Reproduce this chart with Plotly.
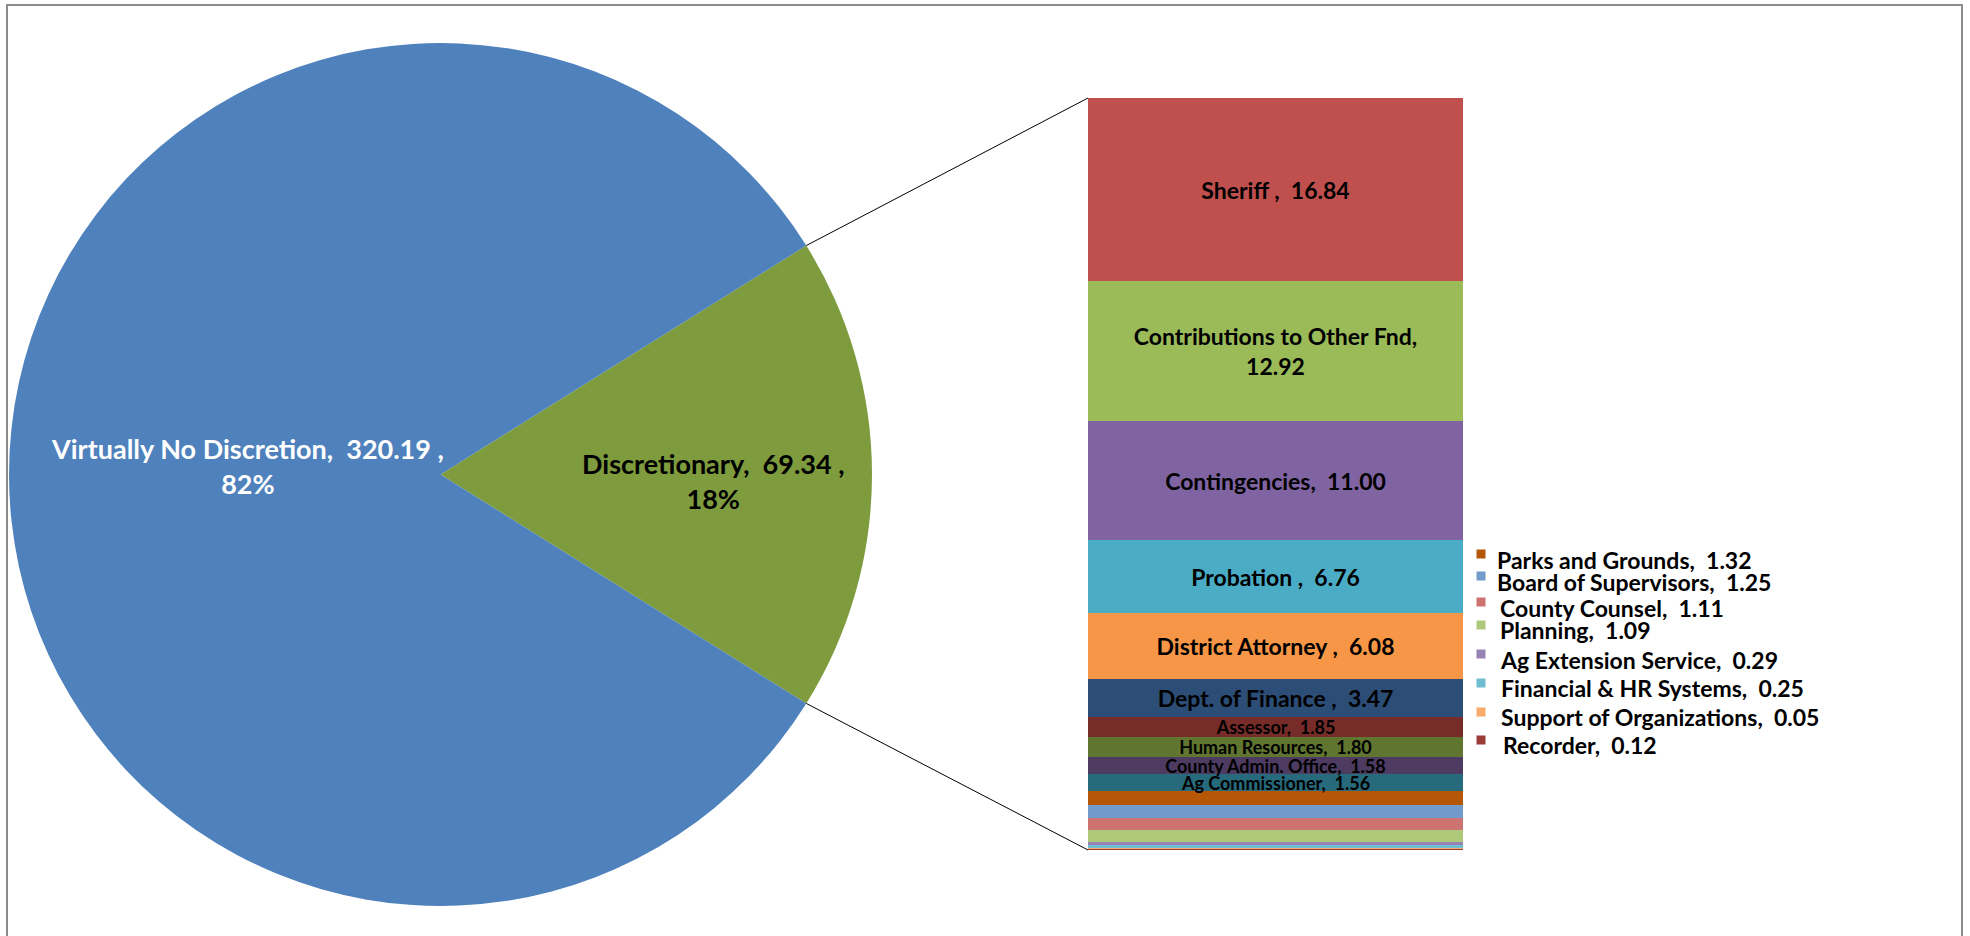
import plotly.graph_objects as go
import math

W, H = 1970, 936

# ---------------- data ----------------
pie_labels = ["Discretionary", "Virtually No Discretion"]
pie_values = [69.34, 320.19]
pie_pcts = ["18%", "82%"]
pie_colors = ["#7E9C3E", "#4F81BD"]

bar_names = ["Sheriff ", "Contributions to Other Fnd", "Contingencies", "Probation ",
             "District Attorney ", "Dept. of Finance ", "Assessor", "Human Resources",
             "County Admin. Office", "Ag Commissioner", "Parks and Grounds",
             "Board of Supervisors", "County Counsel", "Planning", "Ag Extension Service",
             "Financial & HR Systems", "Support of Organizations", "Recorder"]
bar_values = [16.84, 12.92, 11.00, 6.76, 6.08, 3.47, 1.85, 1.80, 1.58, 1.56,
              1.32, 1.25, 1.11, 1.09, 0.29, 0.25, 0.05, 0.12]
bar_colors = ["#C0504D", "#9BBB59", "#8064A2", "#4BACC6", "#F79646", "#2C4D75",
              "#772C2A", "#5F7530", "#4D3B62", "#276A7C", "#B65708", "#729ACA",
              "#CD7371", "#AFC97A", "#9983B5", "#6FBDD1", "#F9AB6B", "#9B3B38"]
n_inside = 10  # first segments labelled inside the bar

# ---------------- layout geometry (pixels) ----------------
pie_left, pie_top, pie_d = 9, 43, 863
bar_x0, bar_x1, bar_ytop, bar_ybot = 1088, 1463, 98, 850
side_marker_x = 1481
side_marker_y = [554, 576, 602, 625, 654, 683, 712, 740]
side_text_x = [1495, 1495, 1498, 1498, 1498, 1499, 1499, 1501]
side_text_y = [560, 582, 608, 630, 660, 688, 717, 745]

FONT = "Lato, 'Open Sans', sans-serif"

def px(x):
    return x / W

def py(y):
    return 1 - y / H

fig = go.Figure()

# ---- pie ----
total = sum(pie_values)
ang = 360 * pie_values[0] / total
fig.add_trace(go.Pie(
    labels=pie_labels, values=pie_values, sort=False, direction="clockwise",
    rotation=90 - ang / 2, marker=dict(colors=pie_colors, line=dict(width=0)),
    textinfo="none", hoverinfo="label+value+percent", showlegend=False,
    domain=dict(x=[px(pie_left), px(pie_left + pie_d)], y=[py(pie_top + pie_d), py(pie_top)]),
))

# ---- stacked bar (bottom segment first) ----
bar_total = sum(bar_values)
for i in reversed(range(len(bar_names))):
    name, v = bar_names[i], bar_values[i]
    if i < n_inside:
        if i == 1:
            txt = f"{name},<br>{v:.2f}"
        else:
            txt = f"{name},\u00a0 {v:.2f}"
        tp = "inside"
    else:
        txt = ""
        tp = "none"
    fig.add_trace(go.Bar(
        x=["Discretionary"], y=[v], name=name, text=[txt], textposition=tp,
        insidetextanchor="middle", textangle=0, constraintext="none",
        textfont=dict(family=FONT, size=23 if i < 6 else 18, color="black", weight="bold"),
        marker=dict(color=bar_colors[i], line=dict(width=0)),
        showlegend=False, hoverinfo="name+y",
    ))

fig.update_layout(
    barmode="stack", bargap=0,
    width=W, height=H, margin=dict(l=0, r=0, t=0, b=0),
    paper_bgcolor="white", plot_bgcolor="rgba(0,0,0,0)",
    xaxis=dict(domain=[px(bar_x0), px(bar_x1)], visible=False, fixedrange=True),
    yaxis=dict(domain=[py(bar_ybot), py(bar_ytop)], range=[0, bar_total], visible=False,
               fixedrange=True),
)

shapes = []
annotations = []

# connector lines from pie slice edges to bar corners
cx = pie_left + pie_d / 2
cy = pie_top + pie_d / 2
r = pie_d / 2
half = math.radians(ang / 2)
ex = cx + r * math.cos(half)
ey_top = cy - r * math.sin(half)
ey_bot = cy + r * math.sin(half)
shapes.append(dict(type="line", xref="paper", yref="paper", x0=px(ex), y0=py(ey_top),
                   x1=px(bar_x0), y1=py(bar_ytop), line=dict(color="black", width=1)))
shapes.append(dict(type="line", xref="paper", yref="paper", x0=px(ex), y0=py(ey_bot),
                   x1=px(bar_x0), y1=py(bar_ybot), line=dict(color="black", width=1)))

# outer frame
shapes.append(dict(type="rect", xref="paper", yref="paper", x0=px(7), x1=px(1962),
                   y0=-0.05, y1=py(5), line=dict(color="#8C8C8C", width=2),
                   fillcolor="rgba(0,0,0,0)", layer="below"))

# pie labels
annotations.append(dict(
    x=px(247), y=py(466), xref="paper", yref="paper", showarrow=False,
    xanchor="center", yanchor="middle",
    text=f"{pie_labels[1]},\u00a0 {pie_values[1]:.2f} ,<br>{pie_pcts[1]}",
    font=dict(family=FONT, size=27, color="white", weight="bold"), align="center"))
annotations.append(dict(
    x=px(713), y=py(481), xref="paper", yref="paper", showarrow=False,
    xanchor="center", yanchor="middle",
    text=f"{pie_labels[0]},\u00a0 {pie_values[0]:.2f} ,<br>{pie_pcts[0]}",
    font=dict(family=FONT, size=27, color="black", weight="bold"), align="center"))

# side labels for tiny segments
for k, i in enumerate(range(n_inside, len(bar_names))):
    my = side_marker_y[k]
    shapes.append(dict(type="rect", xref="paper", yref="paper",
                       x0=px(side_marker_x - 4.5), x1=px(side_marker_x + 4.5),
                       y0=py(my + 4.5), y1=py(my - 4.5),
                       fillcolor=bar_colors[i], line=dict(width=0)))
    annotations.append(dict(
        x=px(side_text_x[k]), y=py(side_text_y[k]), xref="paper", yref="paper",
        xanchor="left", yanchor="middle", showarrow=False,
        text=f"{bar_names[i]},\u00a0 {bar_values[i]:.2f}",
        font=dict(family=FONT, size=23, color="black", weight="bold")))

fig.update_layout(shapes=shapes, annotations=annotations)
fig.write_html("out.html", config={"displayModeBar": False},
               post_script="document.body.style.margin='0';document.body.style.overflow='hidden';")
